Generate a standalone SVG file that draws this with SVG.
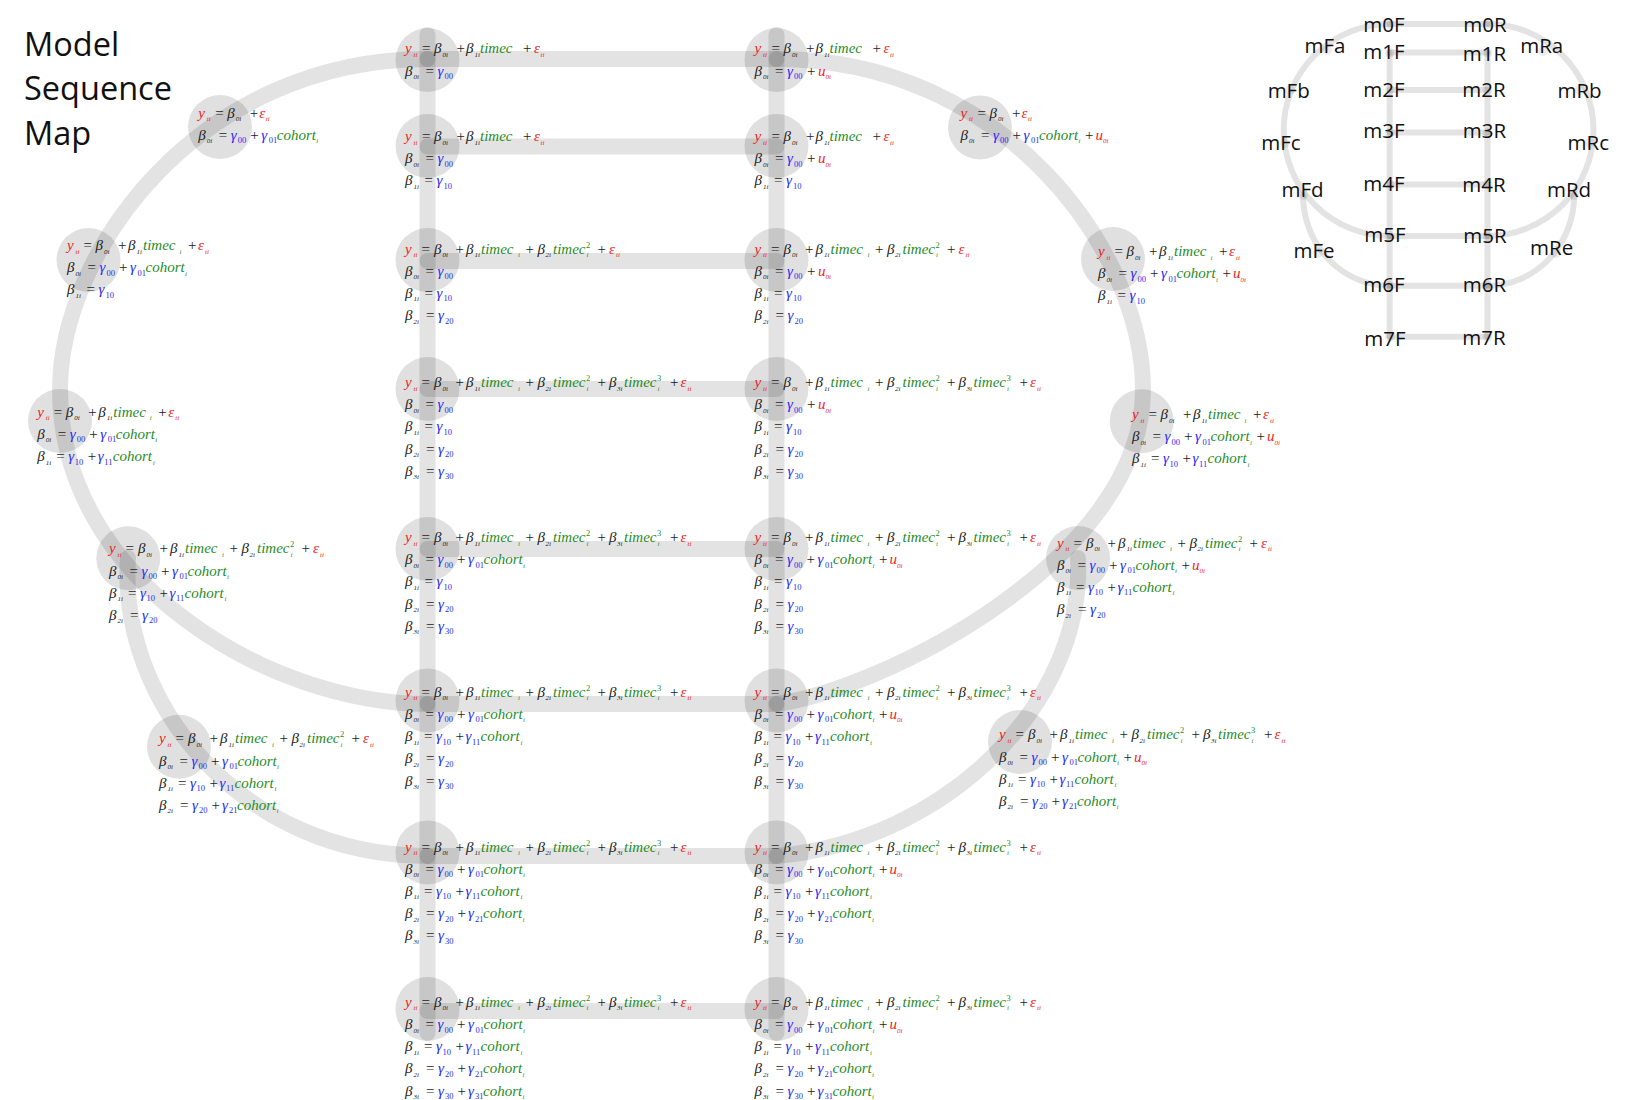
<svg xmlns="http://www.w3.org/2000/svg" width="1627" height="1100" viewBox="0 0 1627 1100">
<style>
.t{font-family:"Open Sans","Noto Sans","DejaVu Sans",sans-serif;fill:#111}
.ttl{font-size:32.5px}
.lab{font-size:20.5px;text-anchor:middle}
.eq{font-family:"Liberation Serif","DejaVu Serif",serif;font-size:15px;fill:#1c1c1c}
.i{font-style:italic}
.r{fill:#f01c1c}
.b{fill:#2b2bf2}
.g{fill:#1f8c1f}
.s{font-size:7px}
.d{font-size:8.5px}
.bar{fill:none;stroke:#000;stroke-opacity:.11;stroke-width:16;stroke-linecap:round}
.mini{fill:none;stroke:#000;stroke-opacity:.11;stroke-width:6;stroke-linecap:round}
.nd{fill:#000;fill-opacity:.12}
.mnd{fill:#000;fill-opacity:.07}
</style>
<rect width="1627" height="1100" fill="#fff"/>
<g id="title"><text class="t ttl" x="24" y="56">Model</text><text class="t ttl" x="24" y="100">Sequence</text><text class="t ttl" x="24" y="145">Map</text></g>
<g id="connectors">
<line class="bar" x1="427.5" y1="35" x2="427.5" y2="1033"/>
<line class="bar" x1="776.5" y1="35" x2="776.5" y2="1033"/>
<line class="bar" x1="427.5" y1="59" x2="776.5" y2="59"/>
<line class="bar" x1="427.5" y1="146.5" x2="776.5" y2="146.5"/>
<line class="bar" x1="427.5" y1="261" x2="776.5" y2="261"/>
<line class="bar" x1="427.5" y1="389" x2="776.5" y2="389"/>
<line class="bar" x1="427.5" y1="549" x2="776.5" y2="549"/>
<line class="bar" x1="427.5" y1="704" x2="776.5" y2="704"/>
<line class="bar" x1="427.5" y1="856" x2="776.5" y2="856"/>
<line class="bar" x1="427.5" y1="1011" x2="776.5" y2="1011"/>
<path class="bar" d="M427.5,59 C200,59 60,250 60,390 C60,581 269,704 427.5,704"/>
<path class="bar" d="M776.5,59 C1003,59 1143,250 1143,390 C1143,560 880,690 776.5,704"/>
<path class="bar" d="M128,558 C118,700 240,856 427.5,856"/>
<path class="bar" d="M1078,558 C1085,700 950,840 776.5,856"/>
</g>
<g id="mini-connectors">
<line class="mini" x1="1389.7" y1="52.5" x2="1389.7" y2="336.8"/>
<line class="mini" x1="1487.5" y1="52.5" x2="1487.5" y2="336.8"/>
<line class="mini" x1="1389.7" y1="24" x2="1487.5" y2="24"/>
<line class="mini" x1="1389.7" y1="52.5" x2="1487.5" y2="52.5"/>
<line class="mini" x1="1389.7" y1="90" x2="1487.5" y2="90"/>
<line class="mini" x1="1389.7" y1="132.5" x2="1487.5" y2="132.5"/>
<line class="mini" x1="1389.7" y1="184.5" x2="1487.5" y2="184.5"/>
<line class="mini" x1="1389.7" y1="236" x2="1487.5" y2="236"/>
<line class="mini" x1="1389.7" y1="285.8" x2="1487.5" y2="285.8"/>
<line class="mini" x1="1389.7" y1="336.8" x2="1487.5" y2="336.8"/>
<path class="mini" d="M1389.7,24 A106 106 0 0 0 1283.7,130 A106 106 0 0 0 1389.7,236"/>
<path class="mini" d="M1487.5,24 A106 106 0 0 1 1593.5,130 A106 106 0 0 1 1487.5,236"/>
<path class="mini" d="M1303,195 A86.7 90.8 0 0 0 1389.7,285.8"/>
<path class="mini" d="M1574.2,195 A86.7 90.8 0 0 1 1487.5,285.8"/>
</g>
<g id="mini-nodes">
<g id="mini-m0F"><circle class="mnd" cx="1389.7" cy="24" r="5"/><text class="t lab" x="1384" y="32">m0F</text></g>
<g id="mini-m1F"><circle class="mnd" cx="1389.7" cy="52.5" r="5"/><text class="t lab" x="1384" y="58.5">m1F</text></g>
<g id="mini-m2F"><circle class="mnd" cx="1389.7" cy="90" r="5"/><text class="t lab" x="1384" y="97.3">m2F</text></g>
<g id="mini-m3F"><circle class="mnd" cx="1389.7" cy="132.5" r="5"/><text class="t lab" x="1384" y="138.3">m3F</text></g>
<g id="mini-m4F"><circle class="mnd" cx="1389.7" cy="184.5" r="5"/><text class="t lab" x="1384" y="190.7">m4F</text></g>
<g id="mini-m5F"><circle class="mnd" cx="1389.7" cy="236" r="5"/><text class="t lab" x="1385" y="242.3">m5F</text></g>
<g id="mini-m6F"><circle class="mnd" cx="1389.7" cy="285.8" r="5"/><text class="t lab" x="1384" y="292.3">m6F</text></g>
<g id="mini-m7F"><circle class="mnd" cx="1389.7" cy="336.8" r="5"/><text class="t lab" x="1385" y="345.5">m7F</text></g>
<g id="mini-m0R"><circle class="mnd" cx="1487.5" cy="24" r="5"/><text class="t lab" x="1485" y="32">m0R</text></g>
<g id="mini-m1R"><circle class="mnd" cx="1487.5" cy="52.5" r="5"/><text class="t lab" x="1484.5" y="60.7">m1R</text></g>
<g id="mini-m2R"><circle class="mnd" cx="1487.5" cy="90" r="5"/><text class="t lab" x="1484" y="97.3">m2R</text></g>
<g id="mini-m3R"><circle class="mnd" cx="1487.5" cy="132.5" r="5"/><text class="t lab" x="1484.5" y="138.3">m3R</text></g>
<g id="mini-m4R"><circle class="mnd" cx="1487.5" cy="184.5" r="5"/><text class="t lab" x="1484" y="191.7">m4R</text></g>
<g id="mini-m5R"><circle class="mnd" cx="1487.5" cy="236" r="5"/><text class="t lab" x="1485" y="243.3">m5R</text></g>
<g id="mini-m6R"><circle class="mnd" cx="1487.5" cy="285.8" r="5"/><text class="t lab" x="1484.5" y="292.3">m6R</text></g>
<g id="mini-m7R"><circle class="mnd" cx="1487.5" cy="336.8" r="5"/><text class="t lab" x="1484" y="345">m7R</text></g>
<g id="mini-mFa"><circle class="mnd" cx="1327" cy="50" r="5"/><text class="t lab" x="1325" y="53.3">mFa</text></g>
<g id="mini-mFb"><circle class="mnd" cx="1290" cy="90" r="5"/><text class="t lab" x="1288.7" y="98.3">mFb</text></g>
<g id="mini-mFc"><circle class="mnd" cx="1285" cy="143" r="5"/><text class="t lab" x="1281" y="150">mFc</text></g>
<g id="mini-mFd"><circle class="mnd" cx="1303" cy="195" r="5"/><text class="t lab" x="1302.5" y="196.7">mFd</text></g>
<g id="mini-mFe"><circle class="mnd" cx="1318" cy="253" r="5"/><text class="t lab" x="1314" y="258.3">mFe</text></g>
<g id="mini-mRa"><circle class="mnd" cx="1543" cy="51" r="5"/><text class="t lab" x="1541.7" y="52.7">mRa</text></g>
<g id="mini-mRb"><circle class="mnd" cx="1580" cy="90" r="5"/><text class="t lab" x="1579.5" y="98.3">mRb</text></g>
<g id="mini-mRc"><circle class="mnd" cx="1590" cy="143" r="5"/><text class="t lab" x="1588.3" y="150">mRc</text></g>
<g id="mini-mRd"><circle class="mnd" cx="1574" cy="195" r="5"/><text class="t lab" x="1569" y="196.7">mRd</text></g>
<g id="mini-mRe"><circle class="mnd" cx="1556" cy="253" r="5"/><text class="t lab" x="1551.7" y="255">mRe</text></g>
</g>
<g id="nodes">
<g id="m0F"><circle class="nd" cx="427.5" cy="60" r="32"/><g transform="translate(405,53.3)">
<text class="eq"><tspan class="i r">y</tspan><tspan x="8.5" y="3.5" class="i r s">ti</tspan><tspan x="17" y="0">=</tspan><tspan x="29" class="i">β</tspan><tspan x="37.5" y="3.5" class="i s">0i</tspan><tspan x="51.5" y="0">+</tspan><tspan x="61" class="i">β</tspan><tspan x="69.5" y="3.5" class="i s">1i</tspan><tspan x="75" y="0" class="i g">timec</tspan><tspan x="118">+</tspan><tspan x="129" class="i r">ε</tspan><tspan x="135.5" y="3.5" class="i r s">ti</tspan></text>
<text class="eq" transform="translate(0,22.2)"><tspan class="i">β</tspan><tspan x="8.5" y="3.5" class="i s">0i</tspan><tspan x="20.5" y="0">=</tspan><tspan x="32.5" class="i b">γ</tspan><tspan x="39.5" y="3.5" class="b d">00</tspan></text>
</g></g>
<g id="m0R"><circle class="nd" cx="776.5" cy="60" r="32"/><g transform="translate(754.5,53.3)">
<text class="eq"><tspan class="i r">y</tspan><tspan x="8.5" y="3.5" class="i r s">ti</tspan><tspan x="17" y="0">=</tspan><tspan x="29" class="i">β</tspan><tspan x="37.5" y="3.5" class="i s">0i</tspan><tspan x="51.5" y="0">+</tspan><tspan x="61" class="i">β</tspan><tspan x="69.5" y="3.5" class="i s">1i</tspan><tspan x="75" y="0" class="i g">timec</tspan><tspan x="118">+</tspan><tspan x="129" class="i r">ε</tspan><tspan x="135.5" y="3.5" class="i r s">ti</tspan></text>
<text class="eq" transform="translate(0,22.2)"><tspan class="i">β</tspan><tspan x="8.5" y="3.5" class="i s">0i</tspan><tspan x="20.5" y="0">=</tspan><tspan x="32.5" class="i b">γ</tspan><tspan x="39.5" y="3.5" class="b d">00</tspan><tspan x="52.5" y="0">+</tspan><tspan x="63.5" class="i r">u</tspan><tspan x="71" y="3.5" class="i r s">0i</tspan></text>
</g></g>
<g id="m1F"><circle class="nd" cx="427.5" cy="146" r="32"/><g transform="translate(405,141)">
<text class="eq"><tspan class="i r">y</tspan><tspan x="8.5" y="3.5" class="i r s">ti</tspan><tspan x="17" y="0">=</tspan><tspan x="29" class="i">β</tspan><tspan x="37.5" y="3.5" class="i s">0i</tspan><tspan x="51.5" y="0">+</tspan><tspan x="61" class="i">β</tspan><tspan x="69.5" y="3.5" class="i s">1i</tspan><tspan x="75" y="0" class="i g">timec</tspan><tspan x="118">+</tspan><tspan x="129" class="i r">ε</tspan><tspan x="135.5" y="3.5" class="i r s">ti</tspan></text>
<text class="eq" transform="translate(0,22.2)"><tspan class="i">β</tspan><tspan x="8.5" y="3.5" class="i s">0i</tspan><tspan x="20.5" y="0">=</tspan><tspan x="32.5" class="i b">γ</tspan><tspan x="39.5" y="3.5" class="b d">00</tspan></text>
<text class="eq" transform="translate(0,44.4)"><tspan class="i">β</tspan><tspan x="8.5" y="3.5" class="i s">1i</tspan><tspan x="19.5" y="0">=</tspan><tspan x="31.5" class="i b">γ</tspan><tspan x="38.5" y="3.5" class="b d">10</tspan></text>
</g></g>
<g id="m1R"><circle class="nd" cx="776.5" cy="146" r="32"/><g transform="translate(754.5,141)">
<text class="eq"><tspan class="i r">y</tspan><tspan x="8.5" y="3.5" class="i r s">ti</tspan><tspan x="17" y="0">=</tspan><tspan x="29" class="i">β</tspan><tspan x="37.5" y="3.5" class="i s">0i</tspan><tspan x="51.5" y="0">+</tspan><tspan x="61" class="i">β</tspan><tspan x="69.5" y="3.5" class="i s">1i</tspan><tspan x="75" y="0" class="i g">timec</tspan><tspan x="118">+</tspan><tspan x="129" class="i r">ε</tspan><tspan x="135.5" y="3.5" class="i r s">ti</tspan></text>
<text class="eq" transform="translate(0,22.2)"><tspan class="i">β</tspan><tspan x="8.5" y="3.5" class="i s">0i</tspan><tspan x="20.5" y="0">=</tspan><tspan x="32.5" class="i b">γ</tspan><tspan x="39.5" y="3.5" class="b d">00</tspan><tspan x="52.5" y="0">+</tspan><tspan x="63.5" class="i r">u</tspan><tspan x="71" y="3.5" class="i r s">0i</tspan></text>
<text class="eq" transform="translate(0,44.4)"><tspan class="i">β</tspan><tspan x="8.5" y="3.5" class="i s">1i</tspan><tspan x="19.5" y="0">=</tspan><tspan x="31.5" class="i b">γ</tspan><tspan x="38.5" y="3.5" class="b d">10</tspan></text>
</g></g>
<g id="m2F"><circle class="nd" cx="427.5" cy="260" r="32"/><g transform="translate(405,253.5)">
<text class="eq"><tspan class="i r">y</tspan><tspan x="8.5" y="3.5" class="i r s">ti</tspan><tspan x="16.5" y="0">=</tspan><tspan x="29" class="i">β</tspan><tspan x="37.5" y="3.5" class="i s">0i</tspan><tspan x="50.5" y="0">+</tspan><tspan x="61" class="i">β</tspan><tspan x="69.5" y="3.5" class="i s">1i</tspan><tspan x="76" y="0" class="i g">timec</tspan><tspan x="113" y="3.5" class="i g s">i</tspan><tspan x="120.5" y="0">+</tspan><tspan x="132.5" class="i">β</tspan><tspan x="140.5" y="3.5" class="i s">2i</tspan><tspan x="148" y="0" class="i g">timec</tspan><tspan x="181" y="-6" class="g d">2</tspan><tspan x="181.5" y="3.5" class="i g s">i</tspan><tspan x="192.5" y="0">+</tspan><tspan x="204" class="i r">ε</tspan><tspan x="211" y="3.5" class="i r s">ti</tspan></text>
<text class="eq" transform="translate(0,22.2)"><tspan class="i">β</tspan><tspan x="8.5" y="3.5" class="i s">0i</tspan><tspan x="20.5" y="0">=</tspan><tspan x="32.5" class="i b">γ</tspan><tspan x="39.5" y="3.5" class="b d">00</tspan></text>
<text class="eq" transform="translate(0,44.4)"><tspan class="i">β</tspan><tspan x="8.5" y="3.5" class="i s">1i</tspan><tspan x="19.5" y="0">=</tspan><tspan x="31.5" class="i b">γ</tspan><tspan x="38.5" y="3.5" class="b d">10</tspan></text>
<text class="eq" transform="translate(0,66.6)"><tspan class="i">β</tspan><tspan x="8.5" y="3.5" class="i s">2i</tspan><tspan x="21" y="0">=</tspan><tspan x="33" class="i b">γ</tspan><tspan x="40" y="3.5" class="b d">20</tspan></text>
</g></g>
<g id="m2R"><circle class="nd" cx="776.5" cy="260" r="32"/><g transform="translate(754.5,253.5)">
<text class="eq"><tspan class="i r">y</tspan><tspan x="8.5" y="3.5" class="i r s">ti</tspan><tspan x="16.5" y="0">=</tspan><tspan x="29" class="i">β</tspan><tspan x="37.5" y="3.5" class="i s">0i</tspan><tspan x="50.5" y="0">+</tspan><tspan x="61" class="i">β</tspan><tspan x="69.5" y="3.5" class="i s">1i</tspan><tspan x="76" y="0" class="i g">timec</tspan><tspan x="113" y="3.5" class="i g s">i</tspan><tspan x="120.5" y="0">+</tspan><tspan x="132.5" class="i">β</tspan><tspan x="140.5" y="3.5" class="i s">2i</tspan><tspan x="148" y="0" class="i g">timec</tspan><tspan x="181" y="-6" class="g d">2</tspan><tspan x="181.5" y="3.5" class="i g s">i</tspan><tspan x="192.5" y="0">+</tspan><tspan x="204" class="i r">ε</tspan><tspan x="211" y="3.5" class="i r s">ti</tspan></text>
<text class="eq" transform="translate(0,22.2)"><tspan class="i">β</tspan><tspan x="8.5" y="3.5" class="i s">0i</tspan><tspan x="20.5" y="0">=</tspan><tspan x="32.5" class="i b">γ</tspan><tspan x="39.5" y="3.5" class="b d">00</tspan><tspan x="52.5" y="0">+</tspan><tspan x="63.5" class="i r">u</tspan><tspan x="71" y="3.5" class="i r s">0i</tspan></text>
<text class="eq" transform="translate(0,44.4)"><tspan class="i">β</tspan><tspan x="8.5" y="3.5" class="i s">1i</tspan><tspan x="19.5" y="0">=</tspan><tspan x="31.5" class="i b">γ</tspan><tspan x="38.5" y="3.5" class="b d">10</tspan></text>
<text class="eq" transform="translate(0,66.6)"><tspan class="i">β</tspan><tspan x="8.5" y="3.5" class="i s">2i</tspan><tspan x="21" y="0">=</tspan><tspan x="33" class="i b">γ</tspan><tspan x="40" y="3.5" class="b d">20</tspan></text>
</g></g>
<g id="m3F"><circle class="nd" cx="427.5" cy="389" r="32"/><g transform="translate(405,387)">
<text class="eq"><tspan class="i r">y</tspan><tspan x="8.5" y="3.5" class="i r s">ti</tspan><tspan x="16.5" y="0">=</tspan><tspan x="29" class="i">β</tspan><tspan x="37.5" y="3.5" class="i s">0i</tspan><tspan x="50.5" y="0">+</tspan><tspan x="61" class="i">β</tspan><tspan x="69.5" y="3.5" class="i s">1i</tspan><tspan x="76" y="0" class="i g">timec</tspan><tspan x="113" y="3.5" class="i g s">i</tspan><tspan x="120.5" y="0">+</tspan><tspan x="132.5" class="i">β</tspan><tspan x="140.5" y="3.5" class="i s">2i</tspan><tspan x="148" y="0" class="i g">timec</tspan><tspan x="181" y="-6" class="g d">2</tspan><tspan x="181.5" y="3.5" class="i g s">i</tspan><tspan x="192.5" y="0">+</tspan><tspan x="204" class="i">β</tspan><tspan x="212" y="3.5" class="i s">3i</tspan><tspan x="219" y="0" class="i g">timec</tspan><tspan x="252" y="-6" class="g d">3</tspan><tspan x="252.5" y="3.5" class="i g s">i</tspan><tspan x="265" y="0">+</tspan><tspan x="275.5" class="i r">ε</tspan><tspan x="282.5" y="3.5" class="i r s">ti</tspan></text>
<text class="eq" transform="translate(0,22.2)"><tspan class="i">β</tspan><tspan x="8.5" y="3.5" class="i s">0i</tspan><tspan x="20.5" y="0">=</tspan><tspan x="32.5" class="i b">γ</tspan><tspan x="39.5" y="3.5" class="b d">00</tspan></text>
<text class="eq" transform="translate(0,44.4)"><tspan class="i">β</tspan><tspan x="8.5" y="3.5" class="i s">1i</tspan><tspan x="19.5" y="0">=</tspan><tspan x="31.5" class="i b">γ</tspan><tspan x="38.5" y="3.5" class="b d">10</tspan></text>
<text class="eq" transform="translate(0,66.6)"><tspan class="i">β</tspan><tspan x="8.5" y="3.5" class="i s">2i</tspan><tspan x="21" y="0">=</tspan><tspan x="33" class="i b">γ</tspan><tspan x="40" y="3.5" class="b d">20</tspan></text>
<text class="eq" transform="translate(0,88.8)"><tspan class="i">β</tspan><tspan x="8.5" y="3.5" class="i s">3i</tspan><tspan x="21" y="0">=</tspan><tspan x="33" class="i b">γ</tspan><tspan x="40" y="3.5" class="b d">30</tspan></text>
</g></g>
<g id="m3R"><circle class="nd" cx="776.5" cy="389" r="32"/><g transform="translate(754.5,387)">
<text class="eq"><tspan class="i r">y</tspan><tspan x="8.5" y="3.5" class="i r s">ti</tspan><tspan x="16.5" y="0">=</tspan><tspan x="29" class="i">β</tspan><tspan x="37.5" y="3.5" class="i s">0i</tspan><tspan x="50.5" y="0">+</tspan><tspan x="61" class="i">β</tspan><tspan x="69.5" y="3.5" class="i s">1i</tspan><tspan x="76" y="0" class="i g">timec</tspan><tspan x="113" y="3.5" class="i g s">i</tspan><tspan x="120.5" y="0">+</tspan><tspan x="132.5" class="i">β</tspan><tspan x="140.5" y="3.5" class="i s">2i</tspan><tspan x="148" y="0" class="i g">timec</tspan><tspan x="181" y="-6" class="g d">2</tspan><tspan x="181.5" y="3.5" class="i g s">i</tspan><tspan x="192.5" y="0">+</tspan><tspan x="204" class="i">β</tspan><tspan x="212" y="3.5" class="i s">3i</tspan><tspan x="219" y="0" class="i g">timec</tspan><tspan x="252" y="-6" class="g d">3</tspan><tspan x="252.5" y="3.5" class="i g s">i</tspan><tspan x="265" y="0">+</tspan><tspan x="275.5" class="i r">ε</tspan><tspan x="282.5" y="3.5" class="i r s">ti</tspan></text>
<text class="eq" transform="translate(0,22.2)"><tspan class="i">β</tspan><tspan x="8.5" y="3.5" class="i s">0i</tspan><tspan x="20.5" y="0">=</tspan><tspan x="32.5" class="i b">γ</tspan><tspan x="39.5" y="3.5" class="b d">00</tspan><tspan x="52.5" y="0">+</tspan><tspan x="63.5" class="i r">u</tspan><tspan x="71" y="3.5" class="i r s">0i</tspan></text>
<text class="eq" transform="translate(0,44.4)"><tspan class="i">β</tspan><tspan x="8.5" y="3.5" class="i s">1i</tspan><tspan x="19.5" y="0">=</tspan><tspan x="31.5" class="i b">γ</tspan><tspan x="38.5" y="3.5" class="b d">10</tspan></text>
<text class="eq" transform="translate(0,66.6)"><tspan class="i">β</tspan><tspan x="8.5" y="3.5" class="i s">2i</tspan><tspan x="21" y="0">=</tspan><tspan x="33" class="i b">γ</tspan><tspan x="40" y="3.5" class="b d">20</tspan></text>
<text class="eq" transform="translate(0,88.8)"><tspan class="i">β</tspan><tspan x="8.5" y="3.5" class="i s">3i</tspan><tspan x="21" y="0">=</tspan><tspan x="33" class="i b">γ</tspan><tspan x="40" y="3.5" class="b d">30</tspan></text>
</g></g>
<g id="m4F"><circle class="nd" cx="427.5" cy="549" r="32"/><g transform="translate(405,542)">
<text class="eq"><tspan class="i r">y</tspan><tspan x="8.5" y="3.5" class="i r s">ti</tspan><tspan x="16.5" y="0">=</tspan><tspan x="29" class="i">β</tspan><tspan x="37.5" y="3.5" class="i s">0i</tspan><tspan x="50.5" y="0">+</tspan><tspan x="61" class="i">β</tspan><tspan x="69.5" y="3.5" class="i s">1i</tspan><tspan x="76" y="0" class="i g">timec</tspan><tspan x="113" y="3.5" class="i g s">i</tspan><tspan x="120.5" y="0">+</tspan><tspan x="132.5" class="i">β</tspan><tspan x="140.5" y="3.5" class="i s">2i</tspan><tspan x="148" y="0" class="i g">timec</tspan><tspan x="181" y="-6" class="g d">2</tspan><tspan x="181.5" y="3.5" class="i g s">i</tspan><tspan x="192.5" y="0">+</tspan><tspan x="204" class="i">β</tspan><tspan x="212" y="3.5" class="i s">3i</tspan><tspan x="219" y="0" class="i g">timec</tspan><tspan x="252" y="-6" class="g d">3</tspan><tspan x="252.5" y="3.5" class="i g s">i</tspan><tspan x="265" y="0">+</tspan><tspan x="275.5" class="i r">ε</tspan><tspan x="282.5" y="3.5" class="i r s">ti</tspan></text>
<text class="eq" transform="translate(0,22.2)"><tspan class="i">β</tspan><tspan x="8.5" y="3.5" class="i s">0i</tspan><tspan x="20.5" y="0">=</tspan><tspan x="32.5" class="i b">γ</tspan><tspan x="39.5" y="3.5" class="b d">00</tspan><tspan x="52" y="0">+</tspan><tspan x="63" class="i b">γ</tspan><tspan x="70.5" y="3.5" class="b d">01</tspan><tspan x="78.5" y="0" class="i g">cohort</tspan><tspan x="118" y="3.5" class="i g s">i</tspan></text>
<text class="eq" transform="translate(0,44.4)"><tspan class="i">β</tspan><tspan x="8.5" y="3.5" class="i s">1i</tspan><tspan x="19.5" y="0">=</tspan><tspan x="31.5" class="i b">γ</tspan><tspan x="38.5" y="3.5" class="b d">10</tspan></text>
<text class="eq" transform="translate(0,66.6)"><tspan class="i">β</tspan><tspan x="8.5" y="3.5" class="i s">2i</tspan><tspan x="21" y="0">=</tspan><tspan x="33" class="i b">γ</tspan><tspan x="40" y="3.5" class="b d">20</tspan></text>
<text class="eq" transform="translate(0,88.8)"><tspan class="i">β</tspan><tspan x="8.5" y="3.5" class="i s">3i</tspan><tspan x="21" y="0">=</tspan><tspan x="33" class="i b">γ</tspan><tspan x="40" y="3.5" class="b d">30</tspan></text>
</g></g>
<g id="m4R"><circle class="nd" cx="776.5" cy="549" r="32"/><g transform="translate(754.5,542)">
<text class="eq"><tspan class="i r">y</tspan><tspan x="8.5" y="3.5" class="i r s">ti</tspan><tspan x="16.5" y="0">=</tspan><tspan x="29" class="i">β</tspan><tspan x="37.5" y="3.5" class="i s">0i</tspan><tspan x="50.5" y="0">+</tspan><tspan x="61" class="i">β</tspan><tspan x="69.5" y="3.5" class="i s">1i</tspan><tspan x="76" y="0" class="i g">timec</tspan><tspan x="113" y="3.5" class="i g s">i</tspan><tspan x="120.5" y="0">+</tspan><tspan x="132.5" class="i">β</tspan><tspan x="140.5" y="3.5" class="i s">2i</tspan><tspan x="148" y="0" class="i g">timec</tspan><tspan x="181" y="-6" class="g d">2</tspan><tspan x="181.5" y="3.5" class="i g s">i</tspan><tspan x="192.5" y="0">+</tspan><tspan x="204" class="i">β</tspan><tspan x="212" y="3.5" class="i s">3i</tspan><tspan x="219" y="0" class="i g">timec</tspan><tspan x="252" y="-6" class="g d">3</tspan><tspan x="252.5" y="3.5" class="i g s">i</tspan><tspan x="265" y="0">+</tspan><tspan x="275.5" class="i r">ε</tspan><tspan x="282.5" y="3.5" class="i r s">ti</tspan></text>
<text class="eq" transform="translate(0,22.2)"><tspan class="i">β</tspan><tspan x="8.5" y="3.5" class="i s">0i</tspan><tspan x="20.5" y="0">=</tspan><tspan x="32.5" class="i b">γ</tspan><tspan x="39.5" y="3.5" class="b d">00</tspan><tspan x="52" y="0">+</tspan><tspan x="63" class="i b">γ</tspan><tspan x="70.5" y="3.5" class="b d">01</tspan><tspan x="78.5" y="0" class="i g">cohort</tspan><tspan x="118" y="3.5" class="i g s">i</tspan><tspan x="124.5" y="0">+</tspan><tspan x="135" class="i r">u</tspan><tspan x="142.5" y="3.5" class="i r s">0i</tspan></text>
<text class="eq" transform="translate(0,44.4)"><tspan class="i">β</tspan><tspan x="8.5" y="3.5" class="i s">1i</tspan><tspan x="19.5" y="0">=</tspan><tspan x="31.5" class="i b">γ</tspan><tspan x="38.5" y="3.5" class="b d">10</tspan></text>
<text class="eq" transform="translate(0,66.6)"><tspan class="i">β</tspan><tspan x="8.5" y="3.5" class="i s">2i</tspan><tspan x="21" y="0">=</tspan><tspan x="33" class="i b">γ</tspan><tspan x="40" y="3.5" class="b d">20</tspan></text>
<text class="eq" transform="translate(0,88.8)"><tspan class="i">β</tspan><tspan x="8.5" y="3.5" class="i s">3i</tspan><tspan x="21" y="0">=</tspan><tspan x="33" class="i b">γ</tspan><tspan x="40" y="3.5" class="b d">30</tspan></text>
</g></g>
<g id="m5F"><circle class="nd" cx="427.5" cy="700.5" r="32"/><g transform="translate(405,696.7)">
<text class="eq"><tspan class="i r">y</tspan><tspan x="8.5" y="3.5" class="i r s">ti</tspan><tspan x="16.5" y="0">=</tspan><tspan x="29" class="i">β</tspan><tspan x="37.5" y="3.5" class="i s">0i</tspan><tspan x="50.5" y="0">+</tspan><tspan x="61" class="i">β</tspan><tspan x="69.5" y="3.5" class="i s">1i</tspan><tspan x="76" y="0" class="i g">timec</tspan><tspan x="113" y="3.5" class="i g s">i</tspan><tspan x="120.5" y="0">+</tspan><tspan x="132.5" class="i">β</tspan><tspan x="140.5" y="3.5" class="i s">2i</tspan><tspan x="148" y="0" class="i g">timec</tspan><tspan x="181" y="-6" class="g d">2</tspan><tspan x="181.5" y="3.5" class="i g s">i</tspan><tspan x="192.5" y="0">+</tspan><tspan x="204" class="i">β</tspan><tspan x="212" y="3.5" class="i s">3i</tspan><tspan x="219" y="0" class="i g">timec</tspan><tspan x="252" y="-6" class="g d">3</tspan><tspan x="252.5" y="3.5" class="i g s">i</tspan><tspan x="265" y="0">+</tspan><tspan x="275.5" class="i r">ε</tspan><tspan x="282.5" y="3.5" class="i r s">ti</tspan></text>
<text class="eq" transform="translate(0,22.2)"><tspan class="i">β</tspan><tspan x="8.5" y="3.5" class="i s">0i</tspan><tspan x="20.5" y="0">=</tspan><tspan x="32.5" class="i b">γ</tspan><tspan x="39.5" y="3.5" class="b d">00</tspan><tspan x="52" y="0">+</tspan><tspan x="63" class="i b">γ</tspan><tspan x="70.5" y="3.5" class="b d">01</tspan><tspan x="78.5" y="0" class="i g">cohort</tspan><tspan x="118" y="3.5" class="i g s">i</tspan></text>
<text class="eq" transform="translate(0,44.4)"><tspan class="i">β</tspan><tspan x="8.5" y="3.5" class="i s">1i</tspan><tspan x="19" y="0">=</tspan><tspan x="31" class="i b">γ</tspan><tspan x="37.5" y="3.5" class="b d">10</tspan><tspan x="50.5" y="0">+</tspan><tspan x="60.5" class="i b">γ</tspan><tspan x="67" y="3.5" class="b d">11</tspan><tspan x="75.5" y="0" class="i g">cohort</tspan><tspan x="115.5" y="3.5" class="i g s">i</tspan></text>
<text class="eq" transform="translate(0,66.6)"><tspan class="i">β</tspan><tspan x="8.5" y="3.5" class="i s">2i</tspan><tspan x="21" y="0">=</tspan><tspan x="33" class="i b">γ</tspan><tspan x="40" y="3.5" class="b d">20</tspan></text>
<text class="eq" transform="translate(0,88.8)"><tspan class="i">β</tspan><tspan x="8.5" y="3.5" class="i s">3i</tspan><tspan x="21" y="0">=</tspan><tspan x="33" class="i b">γ</tspan><tspan x="40" y="3.5" class="b d">30</tspan></text>
</g></g>
<g id="m5R"><circle class="nd" cx="776.5" cy="700.5" r="32"/><g transform="translate(754.5,696.7)">
<text class="eq"><tspan class="i r">y</tspan><tspan x="8.5" y="3.5" class="i r s">ti</tspan><tspan x="16.5" y="0">=</tspan><tspan x="29" class="i">β</tspan><tspan x="37.5" y="3.5" class="i s">0i</tspan><tspan x="50.5" y="0">+</tspan><tspan x="61" class="i">β</tspan><tspan x="69.5" y="3.5" class="i s">1i</tspan><tspan x="76" y="0" class="i g">timec</tspan><tspan x="113" y="3.5" class="i g s">i</tspan><tspan x="120.5" y="0">+</tspan><tspan x="132.5" class="i">β</tspan><tspan x="140.5" y="3.5" class="i s">2i</tspan><tspan x="148" y="0" class="i g">timec</tspan><tspan x="181" y="-6" class="g d">2</tspan><tspan x="181.5" y="3.5" class="i g s">i</tspan><tspan x="192.5" y="0">+</tspan><tspan x="204" class="i">β</tspan><tspan x="212" y="3.5" class="i s">3i</tspan><tspan x="219" y="0" class="i g">timec</tspan><tspan x="252" y="-6" class="g d">3</tspan><tspan x="252.5" y="3.5" class="i g s">i</tspan><tspan x="265" y="0">+</tspan><tspan x="275.5" class="i r">ε</tspan><tspan x="282.5" y="3.5" class="i r s">ti</tspan></text>
<text class="eq" transform="translate(0,22.2)"><tspan class="i">β</tspan><tspan x="8.5" y="3.5" class="i s">0i</tspan><tspan x="20.5" y="0">=</tspan><tspan x="32.5" class="i b">γ</tspan><tspan x="39.5" y="3.5" class="b d">00</tspan><tspan x="52" y="0">+</tspan><tspan x="63" class="i b">γ</tspan><tspan x="70.5" y="3.5" class="b d">01</tspan><tspan x="78.5" y="0" class="i g">cohort</tspan><tspan x="118" y="3.5" class="i g s">i</tspan><tspan x="124.5" y="0">+</tspan><tspan x="135" class="i r">u</tspan><tspan x="142.5" y="3.5" class="i r s">0i</tspan></text>
<text class="eq" transform="translate(0,44.4)"><tspan class="i">β</tspan><tspan x="8.5" y="3.5" class="i s">1i</tspan><tspan x="19" y="0">=</tspan><tspan x="31" class="i b">γ</tspan><tspan x="37.5" y="3.5" class="b d">10</tspan><tspan x="50.5" y="0">+</tspan><tspan x="60.5" class="i b">γ</tspan><tspan x="67" y="3.5" class="b d">11</tspan><tspan x="75.5" y="0" class="i g">cohort</tspan><tspan x="115.5" y="3.5" class="i g s">i</tspan></text>
<text class="eq" transform="translate(0,66.6)"><tspan class="i">β</tspan><tspan x="8.5" y="3.5" class="i s">2i</tspan><tspan x="21" y="0">=</tspan><tspan x="33" class="i b">γ</tspan><tspan x="40" y="3.5" class="b d">20</tspan></text>
<text class="eq" transform="translate(0,88.8)"><tspan class="i">β</tspan><tspan x="8.5" y="3.5" class="i s">3i</tspan><tspan x="21" y="0">=</tspan><tspan x="33" class="i b">γ</tspan><tspan x="40" y="3.5" class="b d">30</tspan></text>
</g></g>
<g id="m6F"><circle class="nd" cx="427.5" cy="852.5" r="32"/><g transform="translate(405,851.5)">
<text class="eq"><tspan class="i r">y</tspan><tspan x="8.5" y="3.5" class="i r s">ti</tspan><tspan x="16.5" y="0">=</tspan><tspan x="29" class="i">β</tspan><tspan x="37.5" y="3.5" class="i s">0i</tspan><tspan x="50.5" y="0">+</tspan><tspan x="61" class="i">β</tspan><tspan x="69.5" y="3.5" class="i s">1i</tspan><tspan x="76" y="0" class="i g">timec</tspan><tspan x="113" y="3.5" class="i g s">i</tspan><tspan x="120.5" y="0">+</tspan><tspan x="132.5" class="i">β</tspan><tspan x="140.5" y="3.5" class="i s">2i</tspan><tspan x="148" y="0" class="i g">timec</tspan><tspan x="181" y="-6" class="g d">2</tspan><tspan x="181.5" y="3.5" class="i g s">i</tspan><tspan x="192.5" y="0">+</tspan><tspan x="204" class="i">β</tspan><tspan x="212" y="3.5" class="i s">3i</tspan><tspan x="219" y="0" class="i g">timec</tspan><tspan x="252" y="-6" class="g d">3</tspan><tspan x="252.5" y="3.5" class="i g s">i</tspan><tspan x="265" y="0">+</tspan><tspan x="275.5" class="i r">ε</tspan><tspan x="282.5" y="3.5" class="i r s">ti</tspan></text>
<text class="eq" transform="translate(0,22.2)"><tspan class="i">β</tspan><tspan x="8.5" y="3.5" class="i s">0i</tspan><tspan x="20.5" y="0">=</tspan><tspan x="32.5" class="i b">γ</tspan><tspan x="39.5" y="3.5" class="b d">00</tspan><tspan x="52" y="0">+</tspan><tspan x="63" class="i b">γ</tspan><tspan x="70.5" y="3.5" class="b d">01</tspan><tspan x="78.5" y="0" class="i g">cohort</tspan><tspan x="118" y="3.5" class="i g s">i</tspan></text>
<text class="eq" transform="translate(0,44.4)"><tspan class="i">β</tspan><tspan x="8.5" y="3.5" class="i s">1i</tspan><tspan x="19" y="0">=</tspan><tspan x="31" class="i b">γ</tspan><tspan x="37.5" y="3.5" class="b d">10</tspan><tspan x="50.5" y="0">+</tspan><tspan x="60.5" class="i b">γ</tspan><tspan x="67" y="3.5" class="b d">11</tspan><tspan x="75.5" y="0" class="i g">cohort</tspan><tspan x="115.5" y="3.5" class="i g s">i</tspan></text>
<text class="eq" transform="translate(0,66.6)"><tspan class="i">β</tspan><tspan x="8.5" y="3.5" class="i s">2i</tspan><tspan x="21" y="0">=</tspan><tspan x="33" class="i b">γ</tspan><tspan x="40" y="3.5" class="b d">20</tspan><tspan x="52.5" y="0">+</tspan><tspan x="63" class="i b">γ</tspan><tspan x="70" y="3.5" class="b d">21</tspan><tspan x="78" y="0" class="i g">cohort</tspan><tspan x="117.5" y="3.5" class="i g s">i</tspan></text>
<text class="eq" transform="translate(0,88.8)"><tspan class="i">β</tspan><tspan x="8.5" y="3.5" class="i s">3i</tspan><tspan x="21" y="0">=</tspan><tspan x="33" class="i b">γ</tspan><tspan x="40" y="3.5" class="b d">30</tspan></text>
</g></g>
<g id="m6R"><circle class="nd" cx="776.5" cy="852.5" r="32"/><g transform="translate(754.5,851.5)">
<text class="eq"><tspan class="i r">y</tspan><tspan x="8.5" y="3.5" class="i r s">ti</tspan><tspan x="16.5" y="0">=</tspan><tspan x="29" class="i">β</tspan><tspan x="37.5" y="3.5" class="i s">0i</tspan><tspan x="50.5" y="0">+</tspan><tspan x="61" class="i">β</tspan><tspan x="69.5" y="3.5" class="i s">1i</tspan><tspan x="76" y="0" class="i g">timec</tspan><tspan x="113" y="3.5" class="i g s">i</tspan><tspan x="120.5" y="0">+</tspan><tspan x="132.5" class="i">β</tspan><tspan x="140.5" y="3.5" class="i s">2i</tspan><tspan x="148" y="0" class="i g">timec</tspan><tspan x="181" y="-6" class="g d">2</tspan><tspan x="181.5" y="3.5" class="i g s">i</tspan><tspan x="192.5" y="0">+</tspan><tspan x="204" class="i">β</tspan><tspan x="212" y="3.5" class="i s">3i</tspan><tspan x="219" y="0" class="i g">timec</tspan><tspan x="252" y="-6" class="g d">3</tspan><tspan x="252.5" y="3.5" class="i g s">i</tspan><tspan x="265" y="0">+</tspan><tspan x="275.5" class="i r">ε</tspan><tspan x="282.5" y="3.5" class="i r s">ti</tspan></text>
<text class="eq" transform="translate(0,22.2)"><tspan class="i">β</tspan><tspan x="8.5" y="3.5" class="i s">0i</tspan><tspan x="20.5" y="0">=</tspan><tspan x="32.5" class="i b">γ</tspan><tspan x="39.5" y="3.5" class="b d">00</tspan><tspan x="52" y="0">+</tspan><tspan x="63" class="i b">γ</tspan><tspan x="70.5" y="3.5" class="b d">01</tspan><tspan x="78.5" y="0" class="i g">cohort</tspan><tspan x="118" y="3.5" class="i g s">i</tspan><tspan x="124.5" y="0">+</tspan><tspan x="135" class="i r">u</tspan><tspan x="142.5" y="3.5" class="i r s">0i</tspan></text>
<text class="eq" transform="translate(0,44.4)"><tspan class="i">β</tspan><tspan x="8.5" y="3.5" class="i s">1i</tspan><tspan x="19" y="0">=</tspan><tspan x="31" class="i b">γ</tspan><tspan x="37.5" y="3.5" class="b d">10</tspan><tspan x="50.5" y="0">+</tspan><tspan x="60.5" class="i b">γ</tspan><tspan x="67" y="3.5" class="b d">11</tspan><tspan x="75.5" y="0" class="i g">cohort</tspan><tspan x="115.5" y="3.5" class="i g s">i</tspan></text>
<text class="eq" transform="translate(0,66.6)"><tspan class="i">β</tspan><tspan x="8.5" y="3.5" class="i s">2i</tspan><tspan x="21" y="0">=</tspan><tspan x="33" class="i b">γ</tspan><tspan x="40" y="3.5" class="b d">20</tspan><tspan x="52.5" y="0">+</tspan><tspan x="63" class="i b">γ</tspan><tspan x="70" y="3.5" class="b d">21</tspan><tspan x="78" y="0" class="i g">cohort</tspan><tspan x="117.5" y="3.5" class="i g s">i</tspan></text>
<text class="eq" transform="translate(0,88.8)"><tspan class="i">β</tspan><tspan x="8.5" y="3.5" class="i s">3i</tspan><tspan x="21" y="0">=</tspan><tspan x="33" class="i b">γ</tspan><tspan x="40" y="3.5" class="b d">30</tspan></text>
</g></g>
<g id="m7F"><circle class="nd" cx="427.5" cy="1009" r="32"/><g transform="translate(405,1006.8)">
<text class="eq"><tspan class="i r">y</tspan><tspan x="8.5" y="3.5" class="i r s">ti</tspan><tspan x="16.5" y="0">=</tspan><tspan x="29" class="i">β</tspan><tspan x="37.5" y="3.5" class="i s">0i</tspan><tspan x="50.5" y="0">+</tspan><tspan x="61" class="i">β</tspan><tspan x="69.5" y="3.5" class="i s">1i</tspan><tspan x="76" y="0" class="i g">timec</tspan><tspan x="113" y="3.5" class="i g s">i</tspan><tspan x="120.5" y="0">+</tspan><tspan x="132.5" class="i">β</tspan><tspan x="140.5" y="3.5" class="i s">2i</tspan><tspan x="148" y="0" class="i g">timec</tspan><tspan x="181" y="-6" class="g d">2</tspan><tspan x="181.5" y="3.5" class="i g s">i</tspan><tspan x="192.5" y="0">+</tspan><tspan x="204" class="i">β</tspan><tspan x="212" y="3.5" class="i s">3i</tspan><tspan x="219" y="0" class="i g">timec</tspan><tspan x="252" y="-6" class="g d">3</tspan><tspan x="252.5" y="3.5" class="i g s">i</tspan><tspan x="265" y="0">+</tspan><tspan x="275.5" class="i r">ε</tspan><tspan x="282.5" y="3.5" class="i r s">ti</tspan></text>
<text class="eq" transform="translate(0,22.2)"><tspan class="i">β</tspan><tspan x="8.5" y="3.5" class="i s">0i</tspan><tspan x="20.5" y="0">=</tspan><tspan x="32.5" class="i b">γ</tspan><tspan x="39.5" y="3.5" class="b d">00</tspan><tspan x="52" y="0">+</tspan><tspan x="63" class="i b">γ</tspan><tspan x="70.5" y="3.5" class="b d">01</tspan><tspan x="78.5" y="0" class="i g">cohort</tspan><tspan x="118" y="3.5" class="i g s">i</tspan></text>
<text class="eq" transform="translate(0,44.4)"><tspan class="i">β</tspan><tspan x="8.5" y="3.5" class="i s">1i</tspan><tspan x="19" y="0">=</tspan><tspan x="31" class="i b">γ</tspan><tspan x="37.5" y="3.5" class="b d">10</tspan><tspan x="50.5" y="0">+</tspan><tspan x="60.5" class="i b">γ</tspan><tspan x="67" y="3.5" class="b d">11</tspan><tspan x="75.5" y="0" class="i g">cohort</tspan><tspan x="115.5" y="3.5" class="i g s">i</tspan></text>
<text class="eq" transform="translate(0,66.6)"><tspan class="i">β</tspan><tspan x="8.5" y="3.5" class="i s">2i</tspan><tspan x="21" y="0">=</tspan><tspan x="33" class="i b">γ</tspan><tspan x="40" y="3.5" class="b d">20</tspan><tspan x="52.5" y="0">+</tspan><tspan x="63" class="i b">γ</tspan><tspan x="70" y="3.5" class="b d">21</tspan><tspan x="78" y="0" class="i g">cohort</tspan><tspan x="117.5" y="3.5" class="i g s">i</tspan></text>
<text class="eq" transform="translate(0,88.8)"><tspan class="i">β</tspan><tspan x="8.5" y="3.5" class="i s">3i</tspan><tspan x="21" y="0">=</tspan><tspan x="33" class="i b">γ</tspan><tspan x="40" y="3.5" class="b d">30</tspan><tspan x="52.5" y="0">+</tspan><tspan x="63" class="i b">γ</tspan><tspan x="70" y="3.5" class="b d">31</tspan><tspan x="78" y="0" class="i g">cohort</tspan><tspan x="117.5" y="3.5" class="i g s">i</tspan></text>
</g></g>
<g id="m7R"><circle class="nd" cx="776.5" cy="1009" r="32"/><g transform="translate(754.5,1006.8)">
<text class="eq"><tspan class="i r">y</tspan><tspan x="8.5" y="3.5" class="i r s">ti</tspan><tspan x="16.5" y="0">=</tspan><tspan x="29" class="i">β</tspan><tspan x="37.5" y="3.5" class="i s">0i</tspan><tspan x="50.5" y="0">+</tspan><tspan x="61" class="i">β</tspan><tspan x="69.5" y="3.5" class="i s">1i</tspan><tspan x="76" y="0" class="i g">timec</tspan><tspan x="113" y="3.5" class="i g s">i</tspan><tspan x="120.5" y="0">+</tspan><tspan x="132.5" class="i">β</tspan><tspan x="140.5" y="3.5" class="i s">2i</tspan><tspan x="148" y="0" class="i g">timec</tspan><tspan x="181" y="-6" class="g d">2</tspan><tspan x="181.5" y="3.5" class="i g s">i</tspan><tspan x="192.5" y="0">+</tspan><tspan x="204" class="i">β</tspan><tspan x="212" y="3.5" class="i s">3i</tspan><tspan x="219" y="0" class="i g">timec</tspan><tspan x="252" y="-6" class="g d">3</tspan><tspan x="252.5" y="3.5" class="i g s">i</tspan><tspan x="265" y="0">+</tspan><tspan x="275.5" class="i r">ε</tspan><tspan x="282.5" y="3.5" class="i r s">ti</tspan></text>
<text class="eq" transform="translate(0,22.2)"><tspan class="i">β</tspan><tspan x="8.5" y="3.5" class="i s">0i</tspan><tspan x="20.5" y="0">=</tspan><tspan x="32.5" class="i b">γ</tspan><tspan x="39.5" y="3.5" class="b d">00</tspan><tspan x="52" y="0">+</tspan><tspan x="63" class="i b">γ</tspan><tspan x="70.5" y="3.5" class="b d">01</tspan><tspan x="78.5" y="0" class="i g">cohort</tspan><tspan x="118" y="3.5" class="i g s">i</tspan><tspan x="124.5" y="0">+</tspan><tspan x="135" class="i r">u</tspan><tspan x="142.5" y="3.5" class="i r s">0i</tspan></text>
<text class="eq" transform="translate(0,44.4)"><tspan class="i">β</tspan><tspan x="8.5" y="3.5" class="i s">1i</tspan><tspan x="19" y="0">=</tspan><tspan x="31" class="i b">γ</tspan><tspan x="37.5" y="3.5" class="b d">10</tspan><tspan x="50.5" y="0">+</tspan><tspan x="60.5" class="i b">γ</tspan><tspan x="67" y="3.5" class="b d">11</tspan><tspan x="75.5" y="0" class="i g">cohort</tspan><tspan x="115.5" y="3.5" class="i g s">i</tspan></text>
<text class="eq" transform="translate(0,66.6)"><tspan class="i">β</tspan><tspan x="8.5" y="3.5" class="i s">2i</tspan><tspan x="21" y="0">=</tspan><tspan x="33" class="i b">γ</tspan><tspan x="40" y="3.5" class="b d">20</tspan><tspan x="52.5" y="0">+</tspan><tspan x="63" class="i b">γ</tspan><tspan x="70" y="3.5" class="b d">21</tspan><tspan x="78" y="0" class="i g">cohort</tspan><tspan x="117.5" y="3.5" class="i g s">i</tspan></text>
<text class="eq" transform="translate(0,88.8)"><tspan class="i">β</tspan><tspan x="8.5" y="3.5" class="i s">3i</tspan><tspan x="21" y="0">=</tspan><tspan x="33" class="i b">γ</tspan><tspan x="40" y="3.5" class="b d">30</tspan><tspan x="52.5" y="0">+</tspan><tspan x="63" class="i b">γ</tspan><tspan x="70" y="3.5" class="b d">31</tspan><tspan x="78" y="0" class="i g">cohort</tspan><tspan x="117.5" y="3.5" class="i g s">i</tspan></text>
</g></g>
<g id="mFa"><circle class="nd" cx="220" cy="127" r="32"/><g transform="translate(198.3,117.5)">
<text class="eq"><tspan class="i r">y</tspan><tspan x="8.5" y="3.5" class="i r s">ti</tspan><tspan x="17" y="0">=</tspan><tspan x="29" class="i">β</tspan><tspan x="37.5" y="3.5" class="i s">0i</tspan><tspan x="51.5" y="0">+</tspan><tspan x="61" class="i r">ε</tspan><tspan x="67.5" y="3.5" class="i r s">ti</tspan></text>
<text class="eq" transform="translate(0,22.2)"><tspan class="i">β</tspan><tspan x="8.5" y="3.5" class="i s">0i</tspan><tspan x="20.5" y="0">=</tspan><tspan x="32.5" class="i b">γ</tspan><tspan x="39.5" y="3.5" class="b d">00</tspan><tspan x="52" y="0">+</tspan><tspan x="63" class="i b">γ</tspan><tspan x="70.5" y="3.5" class="b d">01</tspan><tspan x="78.5" y="0" class="i g">cohort</tspan><tspan x="118" y="3.5" class="i g s">i</tspan></text>
</g></g>
<g id="mFb"><circle class="nd" cx="88.5" cy="260" r="32"/><g transform="translate(67,250)">
<text class="eq"><tspan class="i r">y</tspan><tspan x="8.5" y="3.5" class="i r s">ti</tspan><tspan x="16.5" y="0">=</tspan><tspan x="28.5" class="i">β</tspan><tspan x="37" y="3.5" class="i s">0i</tspan><tspan x="51" y="0">+</tspan><tspan x="61" class="i">β</tspan><tspan x="69.5" y="3.5" class="i s">1i</tspan><tspan x="76" y="0" class="i g">timec</tspan><tspan x="112.5" y="3.5" class="i g s">i</tspan><tspan x="121" y="0">+</tspan><tspan x="131" class="i r">ε</tspan><tspan x="138" y="3.5" class="i r s">ti</tspan></text>
<text class="eq" transform="translate(0,22.2)"><tspan class="i">β</tspan><tspan x="8.5" y="3.5" class="i s">0i</tspan><tspan x="20.5" y="0">=</tspan><tspan x="32.5" class="i b">γ</tspan><tspan x="39.5" y="3.5" class="b d">00</tspan><tspan x="52" y="0">+</tspan><tspan x="63" class="i b">γ</tspan><tspan x="70.5" y="3.5" class="b d">01</tspan><tspan x="78.5" y="0" class="i g">cohort</tspan><tspan x="118" y="3.5" class="i g s">i</tspan></text>
<text class="eq" transform="translate(0,44.4)"><tspan class="i">β</tspan><tspan x="8.5" y="3.5" class="i s">1i</tspan><tspan x="19.5" y="0">=</tspan><tspan x="31.5" class="i b">γ</tspan><tspan x="38.5" y="3.5" class="b d">10</tspan></text>
</g></g>
<g id="mFc"><circle class="nd" cx="60" cy="421" r="32"/><g transform="translate(37.3,416.7)">
<text class="eq"><tspan class="i r">y</tspan><tspan x="8.5" y="3.5" class="i r s">ti</tspan><tspan x="16.5" y="0">=</tspan><tspan x="28.5" class="i">β</tspan><tspan x="37" y="3.5" class="i s">0i</tspan><tspan x="51" y="0">+</tspan><tspan x="61" class="i">β</tspan><tspan x="69.5" y="3.5" class="i s">1i</tspan><tspan x="76" y="0" class="i g">timec</tspan><tspan x="112.5" y="3.5" class="i g s">i</tspan><tspan x="121" y="0">+</tspan><tspan x="131" class="i r">ε</tspan><tspan x="138" y="3.5" class="i r s">ti</tspan></text>
<text class="eq" transform="translate(0,22.2)"><tspan class="i">β</tspan><tspan x="8.5" y="3.5" class="i s">0i</tspan><tspan x="20.5" y="0">=</tspan><tspan x="32.5" class="i b">γ</tspan><tspan x="39.5" y="3.5" class="b d">00</tspan><tspan x="52" y="0">+</tspan><tspan x="63" class="i b">γ</tspan><tspan x="70.5" y="3.5" class="b d">01</tspan><tspan x="78.5" y="0" class="i g">cohort</tspan><tspan x="118" y="3.5" class="i g s">i</tspan></text>
<text class="eq" transform="translate(0,44.4)"><tspan class="i">β</tspan><tspan x="8.5" y="3.5" class="i s">1i</tspan><tspan x="19" y="0">=</tspan><tspan x="31" class="i b">γ</tspan><tspan x="37.5" y="3.5" class="b d">10</tspan><tspan x="50.5" y="0">+</tspan><tspan x="60.5" class="i b">γ</tspan><tspan x="67" y="3.5" class="b d">11</tspan><tspan x="75.5" y="0" class="i g">cohort</tspan><tspan x="115.5" y="3.5" class="i g s">i</tspan></text>
</g></g>
<g id="mFd"><circle class="nd" cx="128.3" cy="558.3" r="32"/><g transform="translate(109,553.3)">
<text class="eq"><tspan class="i r">y</tspan><tspan x="8.5" y="3.5" class="i r s">ti</tspan><tspan x="16.5" y="0">=</tspan><tspan x="29" class="i">β</tspan><tspan x="37.5" y="3.5" class="i s">0i</tspan><tspan x="50.5" y="0">+</tspan><tspan x="61" class="i">β</tspan><tspan x="69.5" y="3.5" class="i s">1i</tspan><tspan x="76" y="0" class="i g">timec</tspan><tspan x="113" y="3.5" class="i g s">i</tspan><tspan x="120.5" y="0">+</tspan><tspan x="132.5" class="i">β</tspan><tspan x="140.5" y="3.5" class="i s">2i</tspan><tspan x="148" y="0" class="i g">timec</tspan><tspan x="181" y="-6" class="g d">2</tspan><tspan x="181.5" y="3.5" class="i g s">i</tspan><tspan x="192.5" y="0">+</tspan><tspan x="204" class="i r">ε</tspan><tspan x="211" y="3.5" class="i r s">ti</tspan></text>
<text class="eq" transform="translate(0,22.2)"><tspan class="i">β</tspan><tspan x="8.5" y="3.5" class="i s">0i</tspan><tspan x="20.5" y="0">=</tspan><tspan x="32.5" class="i b">γ</tspan><tspan x="39.5" y="3.5" class="b d">00</tspan><tspan x="52" y="0">+</tspan><tspan x="63" class="i b">γ</tspan><tspan x="70.5" y="3.5" class="b d">01</tspan><tspan x="78.5" y="0" class="i g">cohort</tspan><tspan x="118" y="3.5" class="i g s">i</tspan></text>
<text class="eq" transform="translate(0,44.4)"><tspan class="i">β</tspan><tspan x="8.5" y="3.5" class="i s">1i</tspan><tspan x="19" y="0">=</tspan><tspan x="31" class="i b">γ</tspan><tspan x="37.5" y="3.5" class="b d">10</tspan><tspan x="50.5" y="0">+</tspan><tspan x="60.5" class="i b">γ</tspan><tspan x="67" y="3.5" class="b d">11</tspan><tspan x="75.5" y="0" class="i g">cohort</tspan><tspan x="115.5" y="3.5" class="i g s">i</tspan></text>
<text class="eq" transform="translate(0,66.6)"><tspan class="i">β</tspan><tspan x="8.5" y="3.5" class="i s">2i</tspan><tspan x="21" y="0">=</tspan><tspan x="33" class="i b">γ</tspan><tspan x="40" y="3.5" class="b d">20</tspan></text>
</g></g>
<g id="mFe"><circle class="nd" cx="179" cy="746.7" r="32"/><g transform="translate(159,743.3)">
<text class="eq"><tspan class="i r">y</tspan><tspan x="8.5" y="3.5" class="i r s">ti</tspan><tspan x="16.5" y="0">=</tspan><tspan x="29" class="i">β</tspan><tspan x="37.5" y="3.5" class="i s">0i</tspan><tspan x="50.5" y="0">+</tspan><tspan x="61" class="i">β</tspan><tspan x="69.5" y="3.5" class="i s">1i</tspan><tspan x="76" y="0" class="i g">timec</tspan><tspan x="113" y="3.5" class="i g s">i</tspan><tspan x="120.5" y="0">+</tspan><tspan x="132.5" class="i">β</tspan><tspan x="140.5" y="3.5" class="i s">2i</tspan><tspan x="148" y="0" class="i g">timec</tspan><tspan x="181" y="-6" class="g d">2</tspan><tspan x="181.5" y="3.5" class="i g s">i</tspan><tspan x="192.5" y="0">+</tspan><tspan x="204" class="i r">ε</tspan><tspan x="211" y="3.5" class="i r s">ti</tspan></text>
<text class="eq" transform="translate(0,22.2)"><tspan class="i">β</tspan><tspan x="8.5" y="3.5" class="i s">0i</tspan><tspan x="20.5" y="0">=</tspan><tspan x="32.5" class="i b">γ</tspan><tspan x="39.5" y="3.5" class="b d">00</tspan><tspan x="52" y="0">+</tspan><tspan x="63" class="i b">γ</tspan><tspan x="70.5" y="3.5" class="b d">01</tspan><tspan x="78.5" y="0" class="i g">cohort</tspan><tspan x="118" y="3.5" class="i g s">i</tspan></text>
<text class="eq" transform="translate(0,44.4)"><tspan class="i">β</tspan><tspan x="8.5" y="3.5" class="i s">1i</tspan><tspan x="19" y="0">=</tspan><tspan x="31" class="i b">γ</tspan><tspan x="37.5" y="3.5" class="b d">10</tspan><tspan x="50.5" y="0">+</tspan><tspan x="60.5" class="i b">γ</tspan><tspan x="67" y="3.5" class="b d">11</tspan><tspan x="75.5" y="0" class="i g">cohort</tspan><tspan x="115.5" y="3.5" class="i g s">i</tspan></text>
<text class="eq" transform="translate(0,66.6)"><tspan class="i">β</tspan><tspan x="8.5" y="3.5" class="i s">2i</tspan><tspan x="21" y="0">=</tspan><tspan x="33" class="i b">γ</tspan><tspan x="40" y="3.5" class="b d">20</tspan><tspan x="52.5" y="0">+</tspan><tspan x="63" class="i b">γ</tspan><tspan x="70" y="3.5" class="b d">21</tspan><tspan x="78" y="0" class="i g">cohort</tspan><tspan x="117.5" y="3.5" class="i g s">i</tspan></text>
</g></g>
<g id="mRa"><circle class="nd" cx="980" cy="127.5" r="32"/><g transform="translate(960.5,117.5)">
<text class="eq"><tspan class="i r">y</tspan><tspan x="8.5" y="3.5" class="i r s">ti</tspan><tspan x="17" y="0">=</tspan><tspan x="29" class="i">β</tspan><tspan x="37.5" y="3.5" class="i s">0i</tspan><tspan x="51.5" y="0">+</tspan><tspan x="61" class="i r">ε</tspan><tspan x="67.5" y="3.5" class="i r s">ti</tspan></text>
<text class="eq" transform="translate(0,22.2)"><tspan class="i">β</tspan><tspan x="8.5" y="3.5" class="i s">0i</tspan><tspan x="20.5" y="0">=</tspan><tspan x="32.5" class="i b">γ</tspan><tspan x="39.5" y="3.5" class="b d">00</tspan><tspan x="52" y="0">+</tspan><tspan x="63" class="i b">γ</tspan><tspan x="70.5" y="3.5" class="b d">01</tspan><tspan x="78.5" y="0" class="i g">cohort</tspan><tspan x="118" y="3.5" class="i g s">i</tspan><tspan x="124.5" y="0">+</tspan><tspan x="135" class="i r">u</tspan><tspan x="142.5" y="3.5" class="i r s">0i</tspan></text>
</g></g>
<g id="mRb"><circle class="nd" cx="1113" cy="259" r="32"/><g transform="translate(1098,256)">
<text class="eq"><tspan class="i r">y</tspan><tspan x="8.5" y="3.5" class="i r s">ti</tspan><tspan x="16.5" y="0">=</tspan><tspan x="28.5" class="i">β</tspan><tspan x="37" y="3.5" class="i s">0i</tspan><tspan x="51" y="0">+</tspan><tspan x="61" class="i">β</tspan><tspan x="69.5" y="3.5" class="i s">1i</tspan><tspan x="76" y="0" class="i g">timec</tspan><tspan x="112.5" y="3.5" class="i g s">i</tspan><tspan x="121" y="0">+</tspan><tspan x="131" class="i r">ε</tspan><tspan x="138" y="3.5" class="i r s">ti</tspan></text>
<text class="eq" transform="translate(0,22.2)"><tspan class="i">β</tspan><tspan x="8.5" y="3.5" class="i s">0i</tspan><tspan x="20.5" y="0">=</tspan><tspan x="32.5" class="i b">γ</tspan><tspan x="39.5" y="3.5" class="b d">00</tspan><tspan x="52" y="0">+</tspan><tspan x="63" class="i b">γ</tspan><tspan x="70.5" y="3.5" class="b d">01</tspan><tspan x="78.5" y="0" class="i g">cohort</tspan><tspan x="118" y="3.5" class="i g s">i</tspan><tspan x="124.5" y="0">+</tspan><tspan x="135" class="i r">u</tspan><tspan x="142.5" y="3.5" class="i r s">0i</tspan></text>
<text class="eq" transform="translate(0,44.4)"><tspan class="i">β</tspan><tspan x="8.5" y="3.5" class="i s">1i</tspan><tspan x="19.5" y="0">=</tspan><tspan x="31.5" class="i b">γ</tspan><tspan x="38.5" y="3.5" class="b d">10</tspan></text>
</g></g>
<g id="mRc"><circle class="nd" cx="1141.7" cy="421.3" r="32"/><g transform="translate(1132,419)">
<text class="eq"><tspan class="i r">y</tspan><tspan x="8.5" y="3.5" class="i r s">ti</tspan><tspan x="16.5" y="0">=</tspan><tspan x="28.5" class="i">β</tspan><tspan x="37" y="3.5" class="i s">0i</tspan><tspan x="51" y="0">+</tspan><tspan x="61" class="i">β</tspan><tspan x="69.5" y="3.5" class="i s">1i</tspan><tspan x="76" y="0" class="i g">timec</tspan><tspan x="112.5" y="3.5" class="i g s">i</tspan><tspan x="121" y="0">+</tspan><tspan x="131" class="i r">ε</tspan><tspan x="138" y="3.5" class="i r s">ti</tspan></text>
<text class="eq" transform="translate(0,22.2)"><tspan class="i">β</tspan><tspan x="8.5" y="3.5" class="i s">0i</tspan><tspan x="20.5" y="0">=</tspan><tspan x="32.5" class="i b">γ</tspan><tspan x="39.5" y="3.5" class="b d">00</tspan><tspan x="52" y="0">+</tspan><tspan x="63" class="i b">γ</tspan><tspan x="70.5" y="3.5" class="b d">01</tspan><tspan x="78.5" y="0" class="i g">cohort</tspan><tspan x="118" y="3.5" class="i g s">i</tspan><tspan x="124.5" y="0">+</tspan><tspan x="135" class="i r">u</tspan><tspan x="142.5" y="3.5" class="i r s">0i</tspan></text>
<text class="eq" transform="translate(0,44.4)"><tspan class="i">β</tspan><tspan x="8.5" y="3.5" class="i s">1i</tspan><tspan x="19" y="0">=</tspan><tspan x="31" class="i b">γ</tspan><tspan x="37.5" y="3.5" class="b d">10</tspan><tspan x="50.5" y="0">+</tspan><tspan x="60.5" class="i b">γ</tspan><tspan x="67" y="3.5" class="b d">11</tspan><tspan x="75.5" y="0" class="i g">cohort</tspan><tspan x="115.5" y="3.5" class="i g s">i</tspan></text>
</g></g>
<g id="mRd"><circle class="nd" cx="1078" cy="558" r="32"/><g transform="translate(1057,547.5)">
<text class="eq"><tspan class="i r">y</tspan><tspan x="8.5" y="3.5" class="i r s">ti</tspan><tspan x="16.5" y="0">=</tspan><tspan x="29" class="i">β</tspan><tspan x="37.5" y="3.5" class="i s">0i</tspan><tspan x="50.5" y="0">+</tspan><tspan x="61" class="i">β</tspan><tspan x="69.5" y="3.5" class="i s">1i</tspan><tspan x="76" y="0" class="i g">timec</tspan><tspan x="113" y="3.5" class="i g s">i</tspan><tspan x="120.5" y="0">+</tspan><tspan x="132.5" class="i">β</tspan><tspan x="140.5" y="3.5" class="i s">2i</tspan><tspan x="148" y="0" class="i g">timec</tspan><tspan x="181" y="-6" class="g d">2</tspan><tspan x="181.5" y="3.5" class="i g s">i</tspan><tspan x="192.5" y="0">+</tspan><tspan x="204" class="i r">ε</tspan><tspan x="211" y="3.5" class="i r s">ti</tspan></text>
<text class="eq" transform="translate(0,22.2)"><tspan class="i">β</tspan><tspan x="8.5" y="3.5" class="i s">0i</tspan><tspan x="20.5" y="0">=</tspan><tspan x="32.5" class="i b">γ</tspan><tspan x="39.5" y="3.5" class="b d">00</tspan><tspan x="52" y="0">+</tspan><tspan x="63" class="i b">γ</tspan><tspan x="70.5" y="3.5" class="b d">01</tspan><tspan x="78.5" y="0" class="i g">cohort</tspan><tspan x="118" y="3.5" class="i g s">i</tspan><tspan x="124.5" y="0">+</tspan><tspan x="135" class="i r">u</tspan><tspan x="142.5" y="3.5" class="i r s">0i</tspan></text>
<text class="eq" transform="translate(0,44.4)"><tspan class="i">β</tspan><tspan x="8.5" y="3.5" class="i s">1i</tspan><tspan x="19" y="0">=</tspan><tspan x="31" class="i b">γ</tspan><tspan x="37.5" y="3.5" class="b d">10</tspan><tspan x="50.5" y="0">+</tspan><tspan x="60.5" class="i b">γ</tspan><tspan x="67" y="3.5" class="b d">11</tspan><tspan x="75.5" y="0" class="i g">cohort</tspan><tspan x="115.5" y="3.5" class="i g s">i</tspan></text>
<text class="eq" transform="translate(0,66.6)"><tspan class="i">β</tspan><tspan x="8.5" y="3.5" class="i s">2i</tspan><tspan x="21" y="0">=</tspan><tspan x="33" class="i b">γ</tspan><tspan x="40" y="3.5" class="b d">20</tspan></text>
</g></g>
<g id="mRe"><circle class="nd" cx="1020" cy="742" r="32"/><g transform="translate(999,739.3)">
<text class="eq"><tspan class="i r">y</tspan><tspan x="8.5" y="3.5" class="i r s">ti</tspan><tspan x="16.5" y="0">=</tspan><tspan x="29" class="i">β</tspan><tspan x="37.5" y="3.5" class="i s">0i</tspan><tspan x="50.5" y="0">+</tspan><tspan x="61" class="i">β</tspan><tspan x="69.5" y="3.5" class="i s">1i</tspan><tspan x="76" y="0" class="i g">timec</tspan><tspan x="113" y="3.5" class="i g s">i</tspan><tspan x="120.5" y="0">+</tspan><tspan x="132.5" class="i">β</tspan><tspan x="140.5" y="3.5" class="i s">2i</tspan><tspan x="148" y="0" class="i g">timec</tspan><tspan x="181" y="-6" class="g d">2</tspan><tspan x="181.5" y="3.5" class="i g s">i</tspan><tspan x="192.5" y="0">+</tspan><tspan x="204" class="i">β</tspan><tspan x="212" y="3.5" class="i s">3i</tspan><tspan x="219" y="0" class="i g">timec</tspan><tspan x="252" y="-6" class="g d">3</tspan><tspan x="252.5" y="3.5" class="i g s">i</tspan><tspan x="265" y="0">+</tspan><tspan x="275.5" class="i r">ε</tspan><tspan x="282.5" y="3.5" class="i r s">ti</tspan></text>
<text class="eq" transform="translate(0,22.2)"><tspan class="i">β</tspan><tspan x="8.5" y="3.5" class="i s">0i</tspan><tspan x="20.5" y="0">=</tspan><tspan x="32.5" class="i b">γ</tspan><tspan x="39.5" y="3.5" class="b d">00</tspan><tspan x="52" y="0">+</tspan><tspan x="63" class="i b">γ</tspan><tspan x="70.5" y="3.5" class="b d">01</tspan><tspan x="78.5" y="0" class="i g">cohort</tspan><tspan x="118" y="3.5" class="i g s">i</tspan><tspan x="124.5" y="0">+</tspan><tspan x="135" class="i r">u</tspan><tspan x="142.5" y="3.5" class="i r s">0i</tspan></text>
<text class="eq" transform="translate(0,44.4)"><tspan class="i">β</tspan><tspan x="8.5" y="3.5" class="i s">1i</tspan><tspan x="19" y="0">=</tspan><tspan x="31" class="i b">γ</tspan><tspan x="37.5" y="3.5" class="b d">10</tspan><tspan x="50.5" y="0">+</tspan><tspan x="60.5" class="i b">γ</tspan><tspan x="67" y="3.5" class="b d">11</tspan><tspan x="75.5" y="0" class="i g">cohort</tspan><tspan x="115.5" y="3.5" class="i g s">i</tspan></text>
<text class="eq" transform="translate(0,66.6)"><tspan class="i">β</tspan><tspan x="8.5" y="3.5" class="i s">2i</tspan><tspan x="21" y="0">=</tspan><tspan x="33" class="i b">γ</tspan><tspan x="40" y="3.5" class="b d">20</tspan><tspan x="52.5" y="0">+</tspan><tspan x="63" class="i b">γ</tspan><tspan x="70" y="3.5" class="b d">21</tspan><tspan x="78" y="0" class="i g">cohort</tspan><tspan x="117.5" y="3.5" class="i g s">i</tspan></text>
</g></g>
</g>
</svg>
